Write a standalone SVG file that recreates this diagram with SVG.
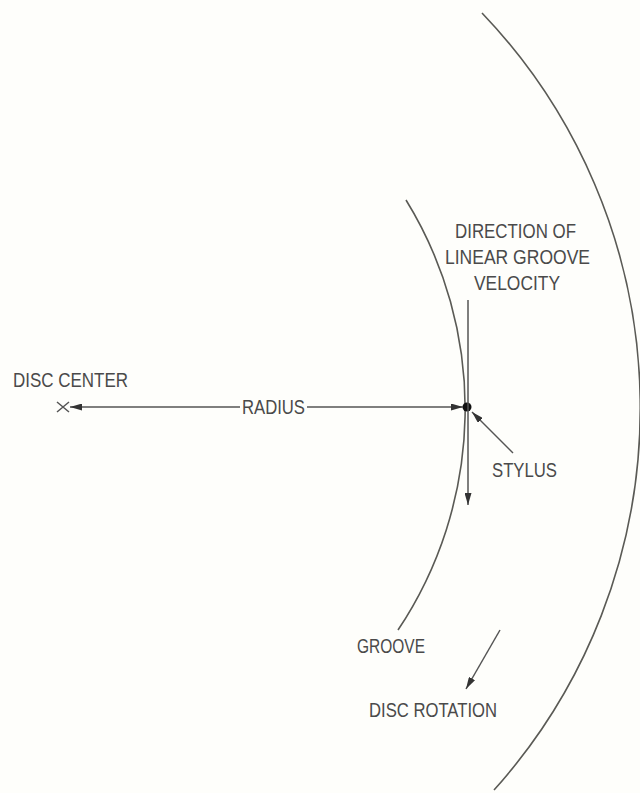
<svg xmlns="http://www.w3.org/2000/svg" width="640" height="793" viewBox="0 0 640 793">
<defs>
<style>
.ln{fill:none;stroke:#555;stroke-width:1.5}
.arc{fill:none;stroke:#5a5a55;stroke-width:1.6}
.t{font-family:"Liberation Sans",Arial,sans-serif;font-size:21px;fill:#4a4a4a}
</style>
<marker id="ah" viewBox="0 0 12 7" markerWidth="12" markerHeight="7" refX="12" refY="3.5" orient="auto" markerUnits="userSpaceOnUse">
<path d="M0,0 L12,3.5 L0,7 z" fill="#333"/>
</marker>
</defs>
<rect width="640" height="793" fill="#fefefb"/>
<g id="disc-edge">
<path class="arc" d="M482 13 A572 572 0 0 1 494 790"/>
</g>
<g id="groove">
<path class="arc" d="M406 200 A398 398 0 0 1 398 630"/>
<text class="t" x="357" y="653" textLength="68" lengthAdjust="spacingAndGlyphs">GROOVE</text>
</g>
<g id="disc-center">
<path class="ln" d="M57 402 L69 412 M57 412 L69 402" stroke="#333"/>
<text class="t" x="13" y="387" textLength="115" lengthAdjust="spacingAndGlyphs">DISC CENTER</text>
</g>
<g id="stylus">
<circle cx="467" cy="407" r="4.5" fill="#111"/>
<text class="t" x="492" y="477" textLength="65" lengthAdjust="spacingAndGlyphs">STYLUS</text>
</g>
<g id="velocity-label">
<text class="t" x="455" y="238" textLength="121" lengthAdjust="spacingAndGlyphs">DIRECTION OF</text>
<text class="t" x="445" y="264" textLength="145" lengthAdjust="spacingAndGlyphs">LINEAR GROOVE</text>
<text class="t" x="474" y="290" textLength="86" lengthAdjust="spacingAndGlyphs">VELOCITY</text>
</g>
<g id="rotation-label">
<text class="t" x="369" y="717" textLength="128" lengthAdjust="spacingAndGlyphs">DISC ROTATION</text>
</g>
<g id="connectors">
<path class="ln" d="M240 407 L70 407" marker-end="url(#ah)"/>
<path class="ln" d="M307 407 L463 407" marker-end="url(#ah)"/>
<text class="t" x="242" y="414" textLength="63" lengthAdjust="spacingAndGlyphs">RADIUS</text>
<path class="ln" d="M468 300 L468 505" marker-end="url(#ah)"/>
<path class="ln" d="M513 453 L472 412" marker-end="url(#ah)"/>
<path class="ln" d="M500 630 L466 689" marker-end="url(#ah)"/>
</g>
</svg>
